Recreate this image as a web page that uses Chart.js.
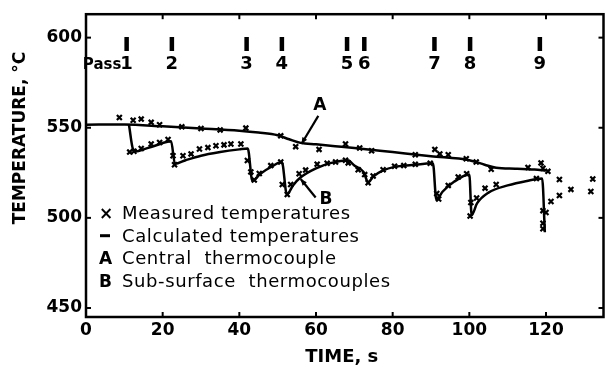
<!DOCTYPE html>
<html><head><meta charset="utf-8">
<script src="https://cdn.jsdelivr.net/npm/chart.js@4"></script>
<style>html,body{margin:0;padding:0;background:#fff}canvas{display:block}</style>
</head><body>
<canvas id="c" width="615" height="368"></canvas>
<script>
// ---- data ----
const xTicks = [0, 20, 40, 60, 80, 100, 120];
const yTicks = [450, 500, 550, 600];

// calculated temperature, central thermocouple (A)
const calcAx = [0, 10, 20, 30, 40, 45, 50, 53, 56, 60, 65, 70, 80, 90, 100, 104, 107, 112, 117, 120];
const calcAy = [551.7, 551.8, 550.8, 549.6, 548.3, 547.3, 545.8, 543.6, 541.6, 540.8, 539.8, 538.8, 536.5, 534.2, 532, 529.5, 527.8, 527.3, 526.8, 526.3];

// calculated temperature, sub-surface thermocouples (B)
const calcBx = [11.2, 12.3, 13.5, 15, 18, 22.2, 23.2, 26, 30, 35, 40, 42.2, 43.4, 45.5, 48.5, 51.1, 52.4, 54, 56, 60, 64, 68.3, 70, 72.4, 73.6, 75, 77.5, 80.5, 85, 90.5, 91.4, 93, 96, 100, 100.6, 102, 105, 110, 115, 119, 119.7];
const calcBy = [551.8, 538, 537, 538, 540, 542.5, 530, 532, 534.5, 536.5, 538, 538.5, 520.5, 524.5, 528.5, 531, 513, 518, 522.5, 527.5, 530.5, 532, 529, 525.5, 519.8, 523, 526.3, 528.3, 529.3, 530.3, 510, 514.5, 520, 524, 501.5, 508, 514, 518, 520.5, 521.8, 492];

// measured temperatures, central thermocouple
const measAx = [8.7, 12.3, 14.4, 17, 19.2, 25, 30, 35, 41.7, 50.8, 54.7, 60.8, 67.7, 71.4, 74.5, 85.9, 91, 92.3, 94.5, 99.2, 101.8, 105.7, 115.3, 118.7, 119.2];
const measAy = [555.7, 554.2, 554.8, 553, 551.7, 550.5, 549.6, 548.8, 549.8, 545.5, 539.5, 538, 541, 538.8, 537.2, 535, 538, 535.5, 535, 532.8, 531, 527, 528, 530.5, 527.5];

// measured temperatures, sub-surface thermocouples
const measBx = [11.4, 12.5, 14.4, 17, 19.2, 21.4, 22.7, 23.1, 25.3, 27.4, 29.6, 31.8, 33.9, 36, 37.8, 40.4, 42.1, 43, 43.9, 45.2, 48.2, 50.8, 51.2, 52.5, 53.4, 55.6, 57.3, 60.3, 62.9, 65.1, 67.7, 68.4, 71, 72.7, 73.6, 74.9, 77.5, 80.5, 82.9, 85.9, 89.8, 91.5, 92, 94.5, 97.1, 99.3, 100.2, 100.4, 101.9, 104.1, 107, 117.5, 119.2, 119.2, 119.2, 120, 120.5, 121.3, 123.5, 123.5, 126.5, 132.2, 131.7];
const measBy = [536.5, 537, 538.5, 541, 541.8, 543.5, 534.5, 529.5, 534.5, 535.5, 538.2, 539, 540, 540.5, 541, 541, 531.8, 525.5, 521, 524.6, 529, 531, 518.5, 513, 518.5, 524.5, 526.5, 529.8, 530.3, 531, 532, 530.5, 526.7, 524, 519.5, 523.2, 526.7, 528.7, 529, 529.7, 530.3, 513.5, 510.5, 518, 522.7, 524.5, 501, 508.5, 511, 516.5, 518.5, 521.8, 504, 497, 494, 503, 525.8, 509.1, 521.3, 512.4, 515.8, 521.6, 514.6];

// rolling passes
const passX = [10.6, 22.4, 41.9, 51.1, 68.1, 72.6, 90.9, 100.2, 118.4];
const passLabels = ['1', '2', '3', '4', '5', '6', '7', '8', '9'];
const passMarkY = 596.4;
const passLabelY = 586.1;

// annotations (data coords)
const labelA = {x: 61.0, y: 562.4, text: 'A'};
const arrowA = [[60.6, 556.6], [56.2, 541.0]];
const labelB = {x: 62.6, y: 510.2, text: 'B'};
const arrowB = [[59.9, 511.3], [56.0, 521.6]];

const legendLines = [
  ['×', 'Measured temperatures'],
  ['–', 'Calculated temperatures'],
  ['A', 'Central  thermocouple'],
  ['B', 'Sub-surface  thermocouples']
];

const zip = (xs, ys) => xs.map((v, i) => ({x: v, y: ys[i]}));

const deco = {
  id: 'deco',
  afterDraw(chart) {
    const {ctx, chartArea: a, scales: {x, y}} = chart;
    ctx.save();
    ctx.strokeStyle = '#000';
    ctx.fillStyle = '#000';
    // frame
    ctx.lineWidth = 2.5;
    ctx.strokeRect(a.left, a.top, a.right - a.left, a.bottom - a.top);
    // inward ticks
    ctx.lineWidth = 2;
    const seg = (x1, y1, x2, y2) => { ctx.beginPath(); ctx.moveTo(x1, y1); ctx.lineTo(x2, y2); ctx.stroke(); };
    xTicks.forEach(v => {
      if (v === 0) return;
      const px = x.getPixelForValue(v);
      seg(px, a.bottom, px, a.bottom - 5);
      seg(px, a.top, px, a.top + 5);
    });
    yTicks.forEach(v => {
      const py = y.getPixelForValue(v);
      seg(a.left, py, a.left + 5, py);
      seg(a.right, py, a.right - 5, py);
    });
    // pass numbers
    ctx.textAlign = 'center';
    ctx.textBaseline = 'alphabetic';
    ctx.font = 'bold 18px "DejaVu Sans"';
    const pby = y.getPixelForValue(passLabelY) + 6.5;
    passX.forEach((v, i) => {
      ctx.fillText(passLabels[i], x.getPixelForValue(v), pby);
    });
    const p1 = x.getPixelForValue(passX[0]) - ctx.measureText(passLabels[0]).width / 2 + 1;
    ctx.font = 'bold 15px "DejaVu Sans"';
    ctx.textAlign = 'right';
    ctx.fillText('Pass', p1, pby);
    // A / B labels and arrows
    ctx.font = 'bold 17px "DejaVu Sans"';
    ctx.textAlign = 'center';
    ctx.textBaseline = 'middle';
    [labelA, labelB].forEach(l => ctx.fillText(l.text, x.getPixelForValue(l.x), y.getPixelForValue(l.y)));
    ctx.lineWidth = 2.2;
    [arrowA, arrowB].forEach(ar => {
      const x1 = x.getPixelForValue(ar[0][0]), y1 = y.getPixelForValue(ar[0][1]);
      const x2 = x.getPixelForValue(ar[1][0]), y2 = y.getPixelForValue(ar[1][1]);
      seg(x1, y1, x2, y2);
      const ang = Math.atan2(y2 - y1, x2 - x1);
      ctx.beginPath();
      ctx.moveTo(x2, y2);
      ctx.lineTo(x2 - 7 * Math.cos(ang - 0.4), y2 - 7 * Math.sin(ang - 0.4));
      ctx.lineTo(x2 - 7 * Math.cos(ang + 0.4), y2 - 7 * Math.sin(ang + 0.4));
      ctx.closePath();
      ctx.fill();
    });
    // legend
    ctx.textAlign = 'left';
    ctx.textBaseline = 'alphabetic';
    const lx = a.left + 13, tx = a.left + 36;
    legendLines.forEach((ln, i) => {
      const by = 219 + i * 22.7;
      if (ln[0] === '–') {
        ctx.lineWidth = 3;
        seg(lx + 1, by - 6, lx + 11, by - 6);
      } else {
        ctx.font = 'bold 17px "DejaVu Sans"';
        ctx.fillText(ln[0], lx, by);
      }
      ctx.font = '18px "DejaVu Sans"';
      ctx.letterSpacing = '0.6px';
      ctx.fillText(ln[1], tx, by);
      ctx.letterSpacing = '0px';
    });
    // axis titles
    ctx.font = 'bold 17px "DejaVu Sans"';
    ctx.textAlign = 'center';
    ctx.textBaseline = 'middle';
    ctx.save();
    ctx.translate(21, 138);
    ctx.rotate(-Math.PI / 2);
    ctx.fillText('TEMPERATURE, °C', 0, 0);
    ctx.restore();
    ctx.font = 'bold 18px "DejaVu Sans"';
    ctx.textBaseline = 'alphabetic';
    ctx.fillText('TIME, s', (a.left + a.right) / 2 - 3, 362);
    ctx.restore();
  }
};

const tickFont = {family: 'DejaVu Sans', size: 17, weight: 'bold'};

new Chart(document.getElementById('c'), {
  type: 'scatter',
  data: {
    datasets: [
      {data: zip(calcAx, calcAy), showLine: true, pointRadius: 0, borderColor: '#000', borderWidth: 2.5, cubicInterpolationMode: 'monotone'},
      {data: zip(calcBx, calcBy), showLine: true, pointRadius: 0, borderColor: '#000', borderWidth: 2.5, cubicInterpolationMode: 'monotone'},
      {data: zip(measAx, measAy), showLine: false, pointStyle: 'crossRot', pointRadius: 3.5, borderColor: '#000', pointBorderWidth: 2.2},
      {data: zip(measBx, measBy), showLine: false, pointStyle: 'crossRot', pointRadius: 3.5, borderColor: '#000', pointBorderWidth: 2.2},
      {data: passX.map(v => ({x: v, y: passMarkY})), showLine: false, pointStyle: 'line', rotation: 90, pointRadius: 7, borderColor: '#000', pointBorderWidth: 4.5}
    ]
  },
  options: {
    responsive: false,
    animation: false,
    layout: {padding: {top: 8, right: 8, left: 0, bottom: 0}},
    plugins: {legend: {display: false}, tooltip: {enabled: false}},
    scales: {
      x: {
        type: 'linear', min: 0, max: 135, position: 'bottom',
        grid: {display: false, drawTicks: false}, border: {display: false},
        ticks: {color: '#000', font: tickFont, padding: 3, maxRotation: 0},
        afterBuildTicks: s => { s.ticks = xTicks.map(v => ({value: v})); },
        afterFit: s => { s.height = 51; }
      },
      y: {
        type: 'linear', min: 445, max: 613,
        grid: {display: false, drawTicks: false}, border: {display: false},
        ticks: {color: '#000', font: tickFont, padding: 4},
        afterBuildTicks: s => { s.ticks = yTicks.map(v => ({value: v})); },
        afterFit: s => { s.width = 86; }
      }
    }
  },
  plugins: [deco]
});
</script>
</body></html>
